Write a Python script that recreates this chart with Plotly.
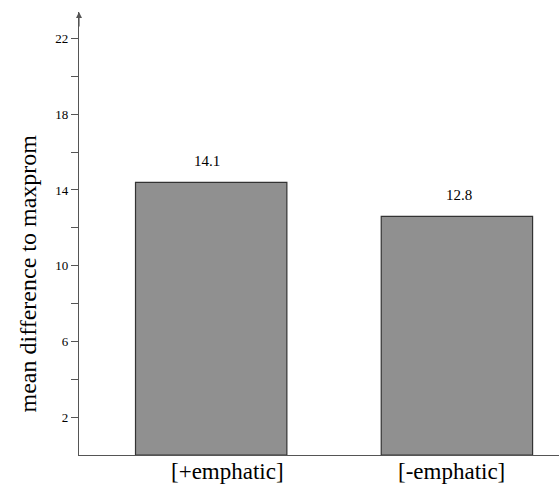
import plotly.graph_objects as go

categories = ["[+emphatic]", "[-emphatic]"]
bar_heights = [14.4, 12.6]
bar_labels = ["14.1", "12.8"]
major_ticks = [2, 6, 10, 14, 18, 22]
minor_ticks = [4, 8, 12, 16, 20]
y_title = "mean difference to maxprom"

FONT = "Liberation Serif"
AX = "#555555"

fig = go.Figure()
fig.add_trace(go.Bar(
    x=categories, y=bar_heights, width=0.616,
    marker=dict(color="#909090", line=dict(color="#333333", width=1.2)),
    hoverinfo="skip",
))

label_shifts = [-4, 2]
for c, h, t, s in zip(categories, bar_heights, bar_labels, label_shifts):
    fig.add_annotation(x=c, y=h, text=t, showarrow=False, yanchor="bottom",
                       yshift=11, xshift=s, font=dict(family=FONT, size=15, color="black"))

cat_shifts = [16, -5]
for c, s in zip(categories, cat_shifts):
    fig.add_annotation(x=c, yref="paper", y=0, text=c, showarrow=False,
                       yanchor="top", yshift=-3, xshift=s, borderpad=0,
                       font=dict(family=FONT, size=23, color="black"))

# arrow at the top of y axis
fig.add_annotation(xref="paper", x=0, y=23.4, ax=0, ay=16, axref="pixel", ayref="pixel",
                   text="", showarrow=True, arrowhead=2, arrowsize=1, arrowwidth=1.2,
                   arrowcolor=AX)

fig.add_annotation(xref="paper", yref="paper", x=-0.106, y=0.41, xanchor="center",
                   yanchor="middle", text=y_title, textangle=-90, showarrow=False,
                   font=dict(family=FONT, size=24, color="black"))

fig.update_layout(
    width=559, height=489,
    margin=dict(l=79, r=0, t=12, b=34),
    paper_bgcolor="white", plot_bgcolor="white",
    showlegend=False,
    font=dict(family=FONT, color="black"),
    xaxis=dict(type="category", range=[-0.538, 1.4155], showline=True, linecolor=AX,
               linewidth=1.2, ticks="", showgrid=False, zeroline=False,
               showticklabels=False),
    yaxis=dict(range=[0, 23.4], showline=True, linecolor=AX, linewidth=1.2,
               tickmode="array", tickvals=major_ticks, ticks="outside", ticklen=7,
               tickcolor=AX, tickwidth=1, showgrid=False, zeroline=False,
               tickfont=dict(family=FONT, size=13, color="black"),
               minor=dict(tickmode="array", tickvals=minor_ticks, ticks="outside",
                          ticklen=7, tickcolor=AX, showgrid=False)),
)

fig.write_html("out.html", config={"displayModeBar": False},
               post_script="document.body.style.margin='0';document.body.style.overflow='hidden';")
